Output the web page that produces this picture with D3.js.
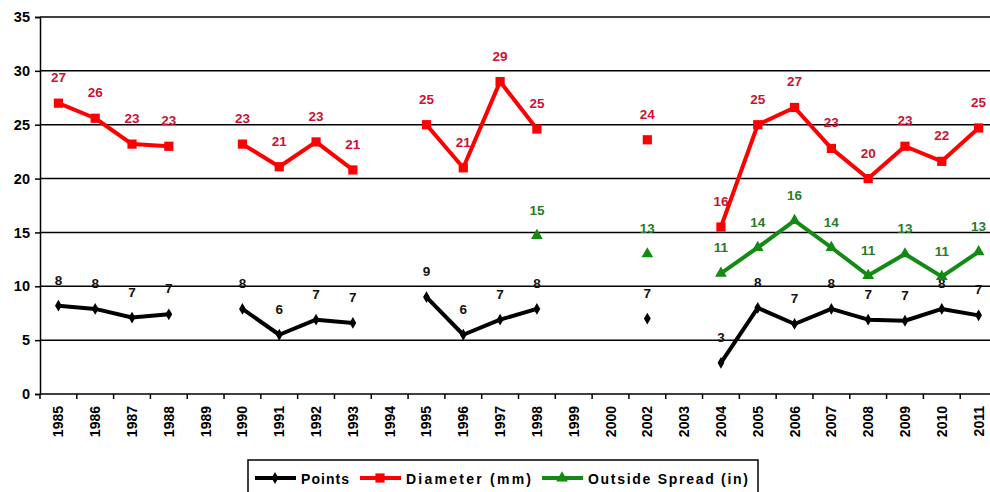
<!DOCTYPE html>
<html>
<head>
<meta charset="utf-8">
<script src="https://cdn.jsdelivr.net/npm/d3@7"></script>
<style>
  body { margin: 0; background: #fff; }
  svg { display: block; font-family: "Liberation Sans", Arial, sans-serif; }
</style>
</head>
<body>
<svg width="990" height="492"></svg>
<script>
// categories (note: no 2001)
let years = ["1985","1986","1987","1988","1989","1990","1991","1992","1993","1994","1995","1996","1997","1998","1999","2000","2002","2003","2004","2005","2006","2007","2008","2009","2010","2011"]

let points   = [8.2, 7.9, 7.1, 7.4, null, 7.9, 5.5, 6.9, 6.6, null, 9.0, 5.5, 6.9, 7.9, null, null, 7.0, null, 2.9, 8.0, 6.5, 7.9, 6.9, 6.8, 7.9, 7.3]
let diameter = [27.0, 25.6, 23.2, 23.0, null, 23.2, 21.1, 23.4, 20.8, null, 25.0, 21.0, 29.0, 24.6, null, null, 23.6, null, 15.5, 25.0, 26.6, 22.8, 20.0, 23.0, 21.6, 24.7]
let spread   = [null, null, null, null, null, null, null, null, null, null, null, null, null, 14.7, null, null, 13.0, null, 11.2, 13.6, 16.1, 13.6, 11.0, 13.0, 10.9, 13.2]

let yTicks = [0, 5, 10, 15, 20, 25, 30, 35]

let series = [
  {name: "Points", values: points, color: "#000", labelColor: "#111", marker: "diamond"},
  {name: "Diameter (mm)", values: diameter, color: "#ff0000", labelColor: "#cc1133", marker: "square"},
  {name: "Outside Spread (in)", values: spread, color: "#138a13", labelColor: "#2a7a2a", marker: "triangle"}
]

let svg = d3.select("svg")
let margin = {top: 17, left: 40}
let plotW = 957, plotH = 377

let x = d3.scaleBand().domain(years).range([0, plotW])
let y = d3.scaleLinear().domain([0, 35]).range([plotH, 0])

let g = svg.append("g")
    .attr("transform", "translate(" + margin.left + "," + margin.top + ")")

// gridlines
g.selectAll(".grid")
  .data(yTicks.filter(d => d > 0))
  .enter().append("line")
    .attr("x1", 0).attr("x2", plotW)
    .attr("y1", d => y(d)).attr("y2", d => y(d))
    .attr("stroke", "#000").attr("stroke-width", 1.5)

// y axis
let yAxis = g.append("g")
    .call(d3.axisLeft(y).tickValues(yTicks).tickSize(5).tickPadding(5))
yAxis.select(".domain").attr("stroke-width", 1.5)
yAxis.selectAll("line").attr("stroke-width", 1.5)
yAxis.selectAll("text")
    .attr("font-size", 14.5).attr("font-weight", "bold")
    .attr("font-family", "Liberation Sans, Arial, sans-serif").attr("fill", "#000")

// x axis: ticks at band boundaries
let xAxis = g.append("g")
    .attr("transform", "translate(0," + plotH + ")")
xAxis.append("line")
    .attr("x1", 0).attr("x2", plotW)
    .attr("stroke", "#000").attr("stroke-width", 1.5)
xAxis.selectAll(".tick")
  .data(years)
  .enter().append("line")
    .attr("x1", d => x(d)).attr("x2", d => x(d))
    .attr("y1", 0).attr("y2", 5)
    .attr("stroke", "#000").attr("stroke-width", 1.5)
xAxis.selectAll(".xlab")
  .data(years)
  .enter().append("text")
    .attr("transform", d => "translate(" + (x(d) + x.bandwidth() / 2 + 5) + ",12) rotate(-90)")
    .attr("text-anchor", "end")
    .attr("font-size", 14).attr("font-weight", "bold")
    .text(d => d)

let cx = i => x(years[i]) + x.bandwidth() / 2

function markerPath(type, size) {
  if (type === "diamond") return d3.symbol(d3.symbolDiamond, size)()
  if (type === "square") return d3.symbol(d3.symbolSquare, size)()
  return d3.symbol(d3.symbolTriangle, size)()
}
let markerSize = {diamond: 40, square: 85, triangle: 60}

series.forEach(s => {
  let data = s.values.map((v, i) => ({i: i, v: v}))
  let line = d3.line()
      .defined(d => d.v != null)
      .x(d => cx(d.i))
      .y(d => y(d.v))

  g.append("path")
      .attr("d", line(data))
      .attr("fill", "none")
      .attr("stroke", s.color)
      .attr("stroke-width", 4)
      .attr("stroke-linejoin", "round")

  let pts = data.filter(d => d.v != null)

  g.selectAll(null)
    .data(pts)
    .enter().append("path")
      .attr("d", markerPath(s.marker, markerSize[s.marker]))
      .attr("transform", d => "translate(" + cx(d.i) + "," + y(d.v) + ")")
      .attr("fill", s.color)

  g.selectAll(null)
    .data(pts)
    .enter().append("text")
      .attr("x", d => cx(d.i))
      .attr("y", d => y(d.v) - 21)
      .attr("text-anchor", "middle")
      .attr("font-size", 13.5).attr("font-weight", "bold")
      .attr("fill", s.labelColor)
      .text(d => Math.round(d.v))
})

// legend
let legend = svg.append("g").attr("transform", "translate(248,460)")
legend.append("rect")
    .attr("width", 510).attr("height", 40)
    .attr("fill", "#fff").attr("stroke", "#000").attr("stroke-width", 1.5)

let legendX = [7, 112, 294]
let legendW = [48, 125, 160]
series.forEach((s, k) => {
  let lg = legend.append("g").attr("transform", "translate(" + legendX[k] + ",18)")
  lg.append("line")
      .attr("x1", 0).attr("x2", 41)
      .attr("stroke", s.color).attr("stroke-width", 4)
  lg.append("path")
      .attr("d", markerPath(s.marker, markerSize[s.marker]))
      .attr("transform", "translate(20,0)")
      .attr("fill", s.color)
  lg.append("text")
      .attr("x", 46).attr("y", 6)
      .attr("font-size", 14).attr("font-weight", "bold")
      .attr("textLength", legendW[k])
      .attr("lengthAdjust", "spacing")
      .text(s.name)
})
</script>
</body>
</html>
